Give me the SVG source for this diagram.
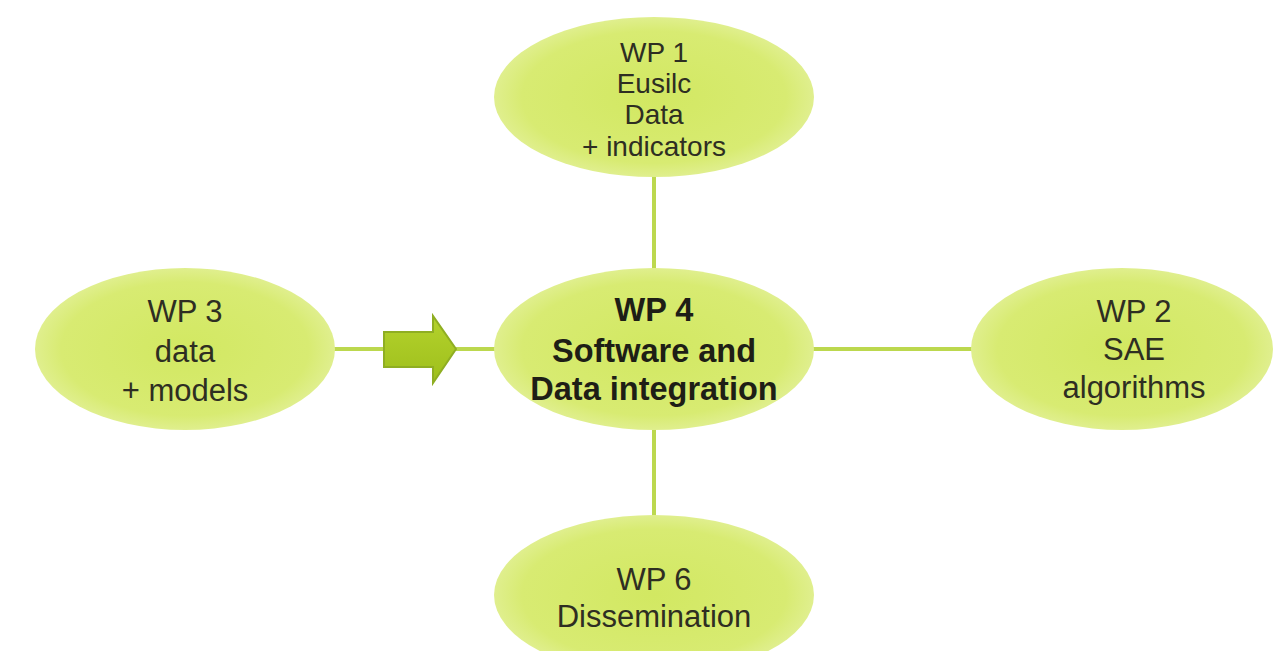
<svg xmlns="http://www.w3.org/2000/svg" width="1273" height="651" viewBox="0 0 1273 651">
<defs>
<radialGradient id="g" cx="50%" cy="50%" r="55%">
<stop offset="0" stop-color="#d2e862"/>
<stop offset="0.75" stop-color="#d8eb72"/>
<stop offset="1" stop-color="#e4f19e"/>
</radialGradient>
<linearGradient id="ag" x1="0" y1="0" x2="0" y2="1">
<stop offset="0" stop-color="#b4d22c"/>
<stop offset="1" stop-color="#9ebf1c"/>
</linearGradient>
</defs>
<style>
.n{fill:url(#g);stroke:none}
.t{font-family:"Liberation Sans",Arial,sans-serif;font-size:31px;fill:#2e2e22;text-anchor:middle}
.s{font-size:28px}
.b{font-weight:bold;font-size:32.5px;fill:#1e1e16}
.c{stroke:#bcd84e;stroke-width:4;fill:none}
</style>
<rect width="1273" height="651" fill="#fff"/>
<g id="connectors">
<line class="c" x1="654" y1="176" x2="654" y2="270"/>
<line class="c" x1="654" y1="428" x2="654" y2="517"/>
<line class="c" x1="813" y1="349" x2="973" y2="349"/>
<line class="c" x1="333" y1="349" x2="496" y2="349"/>
<path d="M384,332 L433,332 L433,316 L456,349 L433,383 L433,367 L384,367 Z" fill="url(#ag)" stroke="#8fae22" stroke-width="2"/>
</g>
<g id="wp1">
<ellipse class="n" cx="654" cy="97" rx="160" ry="80"/>
<text class="t s" x="654" y="62">WP 1</text>
<text class="t s" x="654" y="93">Eusilc</text>
<text class="t s" x="654" y="124">Data</text>
<text class="t s" x="654" y="156">+ indicators</text>
</g>
<g id="wp4">
<ellipse class="n" cx="654" cy="349" rx="160" ry="81"/>
<text class="t b" x="654" y="321">WP 4</text>
<text class="t b" x="654" y="362">Software and</text>
<text class="t b" x="654" y="400">Data integration</text>
</g>
<g id="wp3">
<ellipse class="n" cx="185" cy="349" rx="150" ry="81"/>
<text class="t" x="185" y="322">WP 3</text>
<text class="t" x="185" y="362">data</text>
<text class="t" x="185" y="401">+ models</text>
</g>
<g id="wp2">
<ellipse class="n" cx="1122" cy="349" rx="151" ry="81"/>
<text class="t" x="1134" y="322">WP 2</text>
<text class="t" x="1134" y="360">SAE</text>
<text class="t" x="1134" y="398">algorithms</text>
</g>
<g id="wp6">
<ellipse class="n" cx="654" cy="595" rx="160" ry="80"/>
<text class="t" x="654" y="590">WP 6</text>
<text class="t" x="654" y="627">Dissemination</text>
</g>
</svg>
